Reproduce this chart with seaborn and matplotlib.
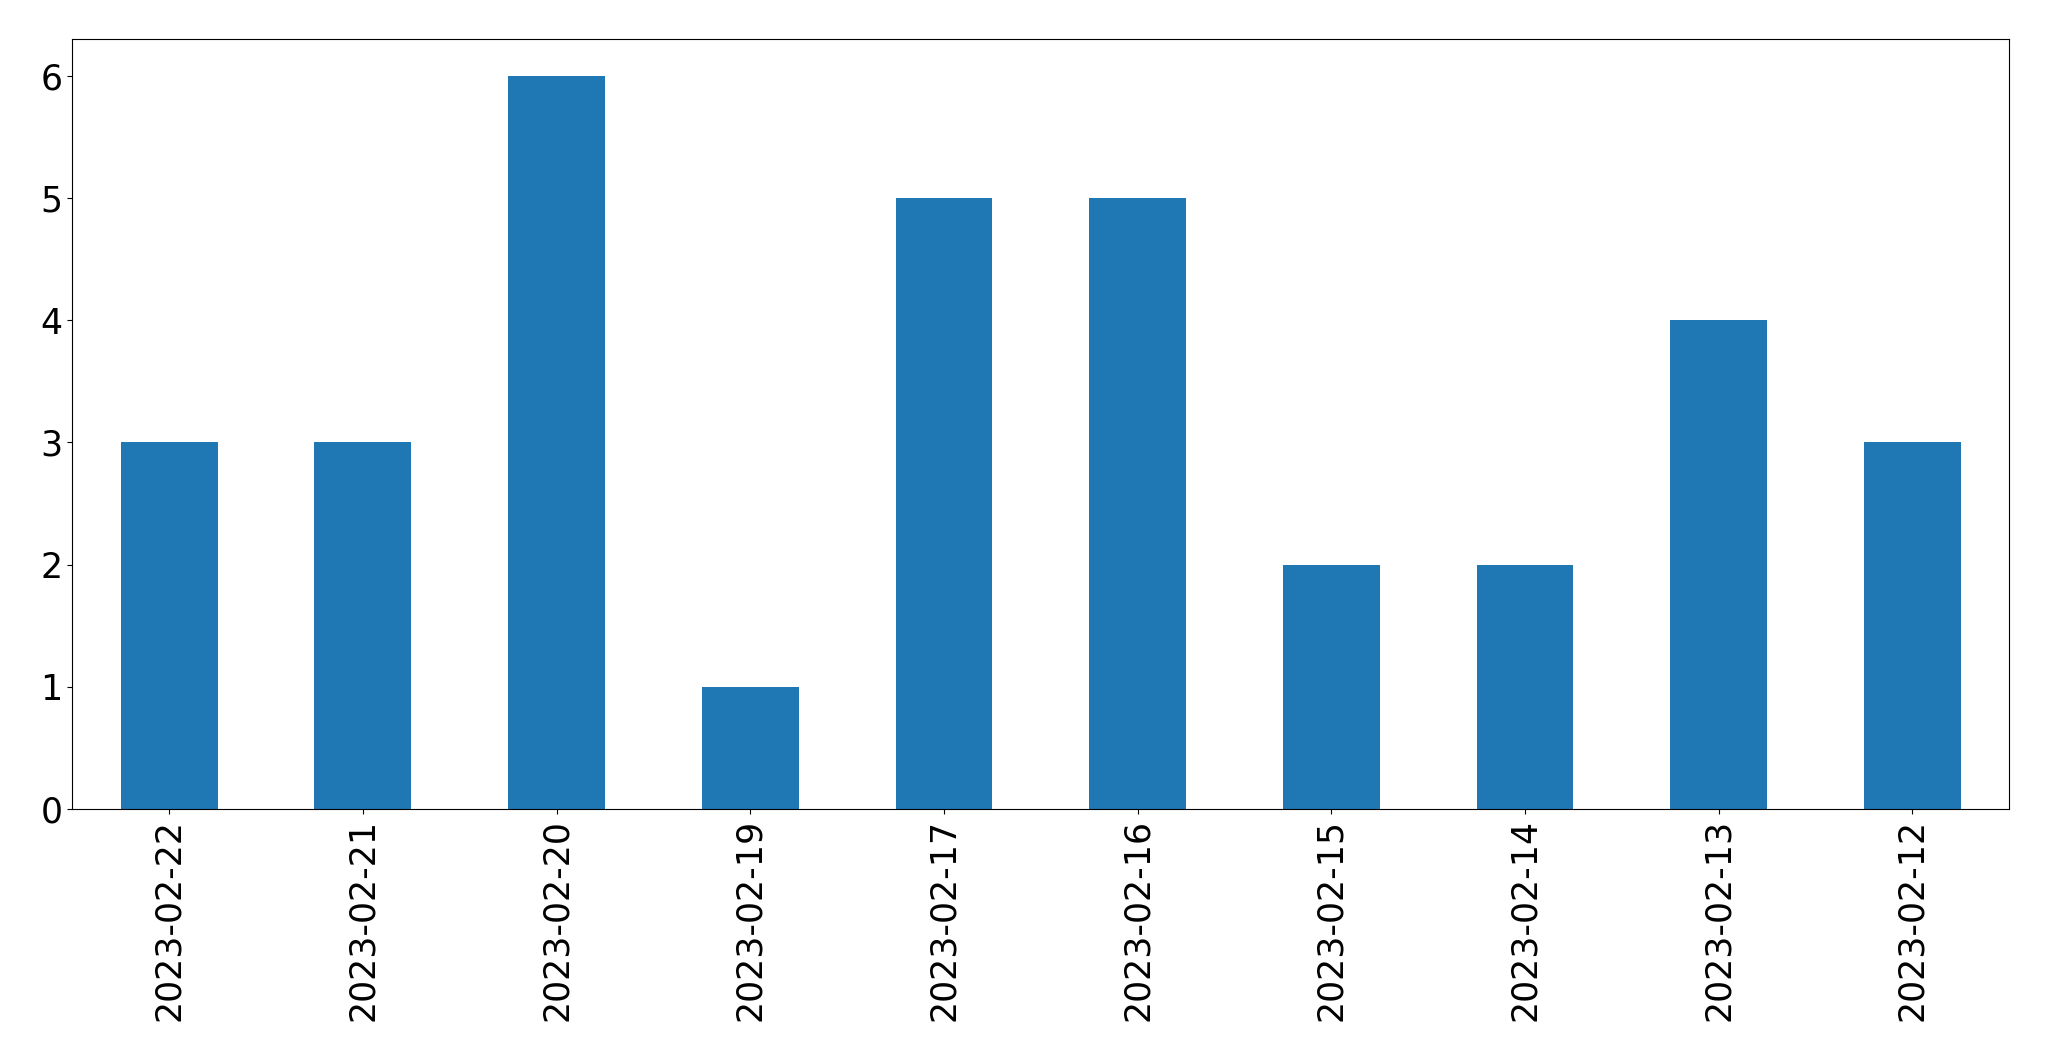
import pandas as pd
import matplotlib
matplotlib.use('Agg')
import matplotlib.pyplot as plt
import seaborn as sns

# Counts per day, in the order shown on the chart
dates = ['2023-02-22', '2023-02-21', '2023-02-20', '2023-02-19', '2023-02-17',
         '2023-02-16', '2023-02-15', '2023-02-14', '2023-02-13', '2023-02-12']
counts = [3, 3, 6, 1, 5, 5, 2, 2, 4, 3]

df = pd.DataFrame({'date': dates, 'count': counts})

fig = plt.figure(figsize=(20.49, 10.61), dpi=100)
ax = fig.add_axes([0.0353, 0.2375, 0.9453, 0.7255])

sns.barplot(data=df, x='date', y='count', order=dates, color='#1f77b4',
            saturation=1, width=0.5, ax=ax)

ax.set_xlim(-0.5, len(dates) - 0.5)
ax.set_ylim(0, 6.3)
ax.set_xlabel('')
ax.set_ylabel('')
ax.tick_params(axis='both', labelsize=25)
plt.setp(ax.get_xticklabels(), rotation=90)

fig.savefig('out.png', dpi=100)
